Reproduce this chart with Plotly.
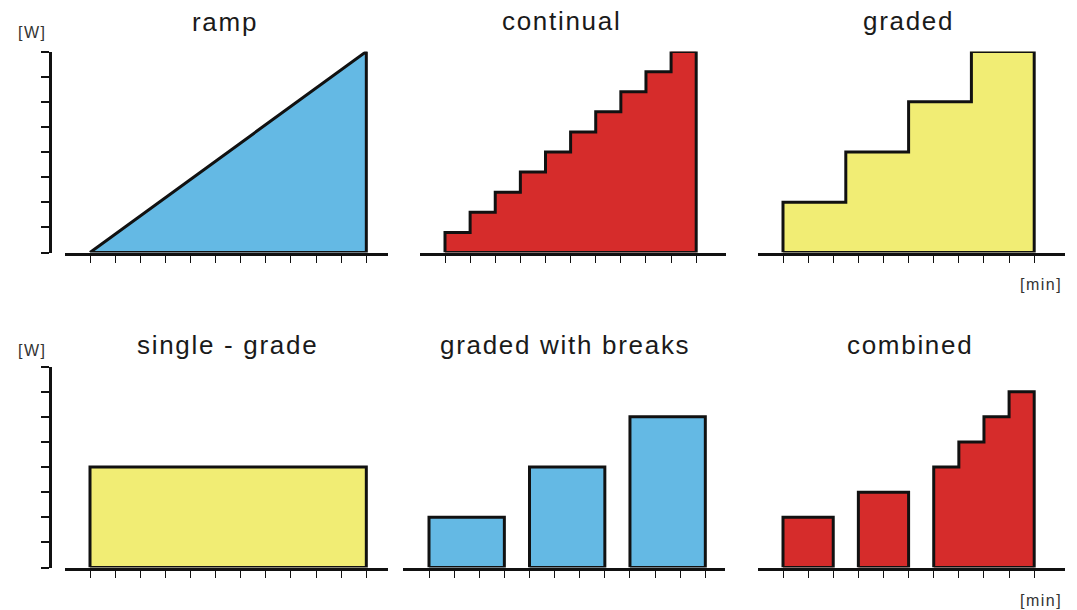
import plotly.graph_objects as go

# ---------------- data ----------------
titles = ["ramp", "continual", "graded", "single - grade", "graded with breaks", "combined"]

ramp_x = [0, 11]
ramp_y = [0, 8]

continual_edges = [0, 1, 2, 3, 4, 5, 6, 7, 8, 9, 10]
continual_levels = [0.8, 1.6, 2.4, 3.2, 4.0, 4.8, 5.6, 6.4, 7.2, 8.0]

graded_edges = [0, 2.5, 5, 7.5, 10]
graded_levels = [2, 4, 6, 8]

single_edges = [0, 11]
single_levels = [4]

breaks_edges = [[0, 3], [4, 7], [8, 11]]
breaks_levels = [[2], [4], [6]]

combined_edges = [[0, 2], [3, 5], [6, 7, 8, 9, 10]]
combined_levels = [[2], [3], [4, 5, 6, 7]]

ticks_11 = [0, 1, 2, 3, 4, 5, 6, 7, 8, 9, 10, 11]
ticks_10 = [0, 1, 2, 3, 4, 5, 6, 7, 8, 9, 10]
y_ticks = [0, 1, 2, 3, 4, 5, 6, 7, 8]
y_unit_label = "[W]"
x_unit_label = "[min]"

BLUE = "#64B9E4"
RED = "#D62C2B"
YELLOW = "#F1ED74"

# ---------------- layout geometry (pixels) ----------------
W, H = 1077, 610
U = 25.12
panels = [
    dict(origin=90, axl=65, axr=388, base=254, ticks=ticks_11, showy=True),
    dict(origin=445, axl=420, axr=726, base=254, ticks=ticks_10, showy=False),
    dict(origin=783, axl=758, axr=1065, base=254, ticks=ticks_10, showy=False),
    dict(origin=90, axl=65, axr=388, base=569, ticks=ticks_11, showy=True),
    dict(origin=429, axl=403, axr=725, base=569, ticks=ticks_11, showy=False),
    dict(origin=783, axl=758, axr=1065, base=569, ticks=ticks_10, showy=False),
]


def step_outline(edges, levels):
    xs = [edges[0], edges[0]]
    ys = [0, levels[0]]
    for i, lv in enumerate(levels):
        xs += [edges[i + 1]]
        ys += [lv]
        if i + 1 < len(levels):
            xs += [edges[i + 1]]
            ys += [levels[i + 1]]
    xs += [edges[-1], edges[0]]
    ys += [0, 0]
    return xs, ys


def groups_outline(groups_e, groups_l):
    xs, ys = [], []
    for e, l in zip(groups_e, groups_l):
        gx, gy = step_outline(e, l)
        xs += gx + [None]
        ys += gy + [None]
    return xs, ys


shapes_data = []
shapes_data.append(([ramp_x[0], ramp_x[1], ramp_x[1], ramp_x[0]],
                    [ramp_y[0], ramp_y[1], 0, ramp_y[0]], BLUE))
shapes_data.append((*step_outline(continual_edges, continual_levels), RED))
shapes_data.append((*step_outline(graded_edges, graded_levels), YELLOW))
shapes_data.append((*step_outline(single_edges, single_levels), YELLOW))
shapes_data.append((*groups_outline(breaks_edges, breaks_levels), BLUE))
shapes_data.append((*groups_outline(combined_edges, combined_levels), RED))

fig = go.Figure()
layout = {}
for i, (p, (xs, ys, col)) in enumerate(zip(panels, shapes_data)):
    n = i + 1
    xa = "x" if n == 1 else f"x{n}"
    ya = "y" if n == 1 else f"y{n}"
    fig.add_trace(go.Scatter(x=xs, y=ys, xaxis=xa, yaxis=ya, mode="lines",
                             fill="toself", fillcolor=col,
                             line=dict(color="#111111", width=3),
                             hoverinfo="skip", showlegend=False))
    bottom = p["base"] - 1.5
    top = bottom - 8 * U
    xrange = [(p["axl"] - p["origin"]) / U, (p["axr"] - p["origin"]) / U]
    layout["xaxis" if n == 1 else f"xaxis{n}"] = dict(
        domain=[p["axl"] / W, p["axr"] / W], range=xrange, anchor=ya,
        showline=True, linewidth=3, linecolor="#111111", showgrid=False,
        zeroline=False, ticks="outside", tickvals=p["ticks"], ticklen=7,
        tickwidth=1, tickcolor="#111111", showticklabels=False, fixedrange=True)
    ydict = dict(domain=[1 - bottom / H, 1 - top / H], range=[0, 8],
                 showgrid=False, zeroline=False, showticklabels=False, fixedrange=True)
    if p["showy"]:
        ydict.update(anchor="free", position=49.5 / W, showline=True, linewidth=3,
                     linecolor="#111111", ticks="outside", tickvals=y_ticks,
                     ticklen=8, tickwidth=1.5, tickcolor="#111111")
    else:
        ydict.update(anchor=xa, visible=False)
    layout["yaxis" if n == 1 else f"yaxis{n}"] = ydict


def spaced(t, sp):
    return f'<span style="letter-spacing:{sp}px">{t}</span>'


title_pos = [(225, 22), (561, 21), (908, 21), (227, 345), (565, 345), (910, 345)]
annotations = []
for t, (x, y) in zip(titles, title_pos):
    annotations.append(dict(text=spaced(t, 1.7), x=x / W, y=1 - y / H, xref="paper",
                            yref="paper", xanchor="center", yanchor="middle",
                            showarrow=False,
                            font=dict(family="Liberation Sans, Arial", size=26, color="#1a1a1a")))
for (x, y) in [(32, 33), (32, 350)]:
    annotations.append(dict(text=spaced(y_unit_label, 1.5), x=x / W, y=1 - y / H,
                            xref="paper", yref="paper", xanchor="center", yanchor="middle",
                            showarrow=False,
                            font=dict(family="Liberation Sans, Arial", size=16, color="#333333")))
for (x, y) in [(1041, 284), (1041, 600)]:
    annotations.append(dict(text=spaced(x_unit_label, 1.5), x=x / W, y=1 - y / H,
                            xref="paper", yref="paper", xanchor="center", yanchor="middle",
                            showarrow=False,
                            font=dict(family="Liberation Sans, Arial", size=16, color="#333333")))

fig.update_layout(**layout)
fig.update_layout(width=W, height=H, margin=dict(l=0, r=0, t=0, b=0),
                  paper_bgcolor="white", plot_bgcolor="rgba(0,0,0,0)",
                  annotations=annotations, showlegend=False)
fig.write_html("out.html", config={"displayModeBar": False},
               post_script="document.body.style.margin='0px';document.body.style.overflow='hidden';")
